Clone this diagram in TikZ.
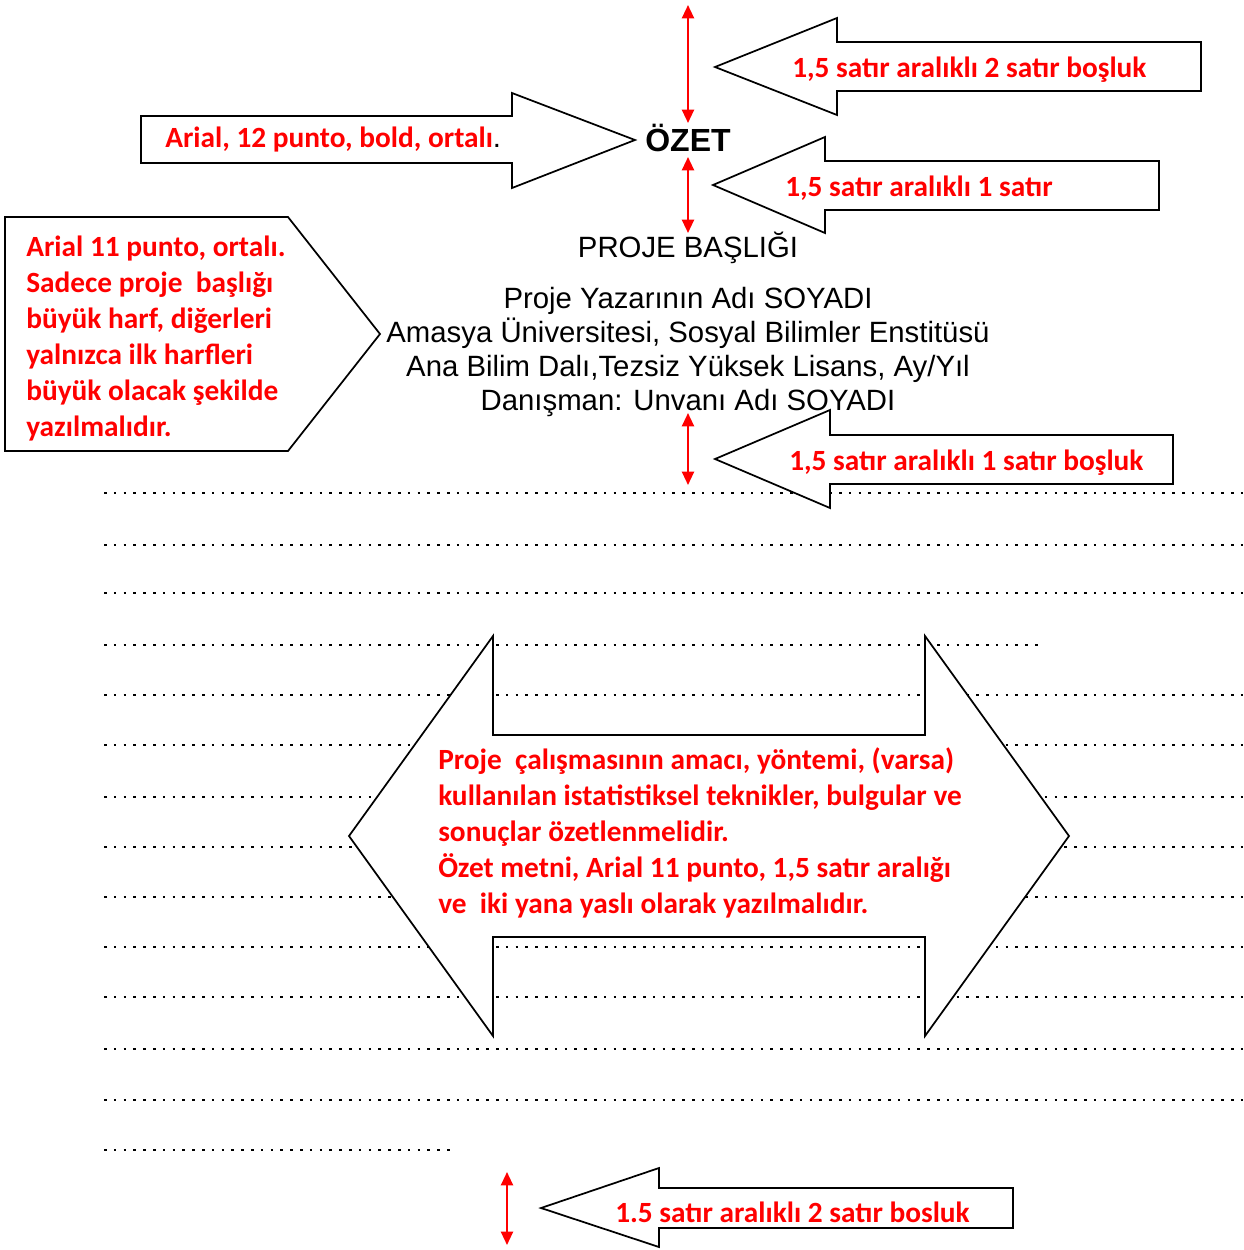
\documentclass[tikz,border=0pt]{standalone}
\usepackage{fontspec}
\setmainfont{Liberation Sans}
\newfontfamily\calib{Carlito}
\usetikzlibrary{arrows.meta}
\begin{document}
\begin{tikzpicture}[x=0.75pt,y=-0.75pt,
  shapeline/.style={draw=black,line width=1.3pt,fill=white,line join=miter},
  dotrow/.style={black,line width=2pt,dash pattern=on 2pt off 5.35pt},
  redlbl/.style={text=red,font=\calib\bfseries\fontsize{22}{27}\selectfont,inner sep=0pt,align=left},
  blk/.style={font=\fontsize{22}{25.5}\selectfont,inner sep=0pt},
  gaparrow/.style={red,line width=1.6pt,{Triangle[length=10pt,width=9pt]}-{Triangle[length=10pt,width=9pt]}}
]
\useasboundingbox (0,0) rectangle (1243,1250);
% dotted writing lines
\foreach \yy in {493,545,593,695,745,797,847,897,947,997,1049,1100}{
  \draw[dotrow] (104,\yy) -- (1243,\yy);
}
\draw[dotrow] (104,645) -- (1040,645);
\draw[dotrow] (104,1150) -- (454,1150);

% block arrows and callout
\draw[shapeline] (141,116) -- (512,116) -- (512,93) -- (635,140) -- (512,188) -- (512,163) -- (141,163) -- cycle;
\draw[shapeline] (1201,42) -- (837,42) -- (837,18) -- (715,67) -- (837,115) -- (837,91) -- (1201,91) -- cycle;
\draw[shapeline] (1159,161) -- (825,161) -- (825,137) -- (713,185) -- (825,233) -- (825,210) -- (1159,210) -- cycle;
\draw[shapeline] (1173,435) -- (830,435) -- (830,410) -- (715,459) -- (830,508) -- (830,484) -- (1173,484) -- cycle;
\draw[shapeline] (1013,1188) -- (659,1188) -- (659,1168) -- (541,1208) -- (659,1247) -- (659,1228) -- (1013,1228) -- cycle;
\draw[shapeline] (5,217) -- (288,217) -- (380,334) -- (288,451) -- (5,451) -- cycle;
\draw[shapeline] (349,836) -- (493,636) -- (493,735) -- (925,735) -- (925,636) -- (1069,836) -- (925,1036) -- (925,937) -- (493,937) -- (493,1036) -- cycle;

% black page text
\node[blk,font=\bfseries\fontsize{24}{28}\selectfont,anchor=base] (ozet) at (688,151) {ÖZET};
\node[blk,anchor=base] (baslik) at (688,257) {PROJE BAŞLIĞI};
\node[blk,anchor=base] (yazar) at (688,308) {Proje Yazarının Adı SOYADI};
\node[blk,anchor=base] (univ) at (688,342) {Amasya Üniversitesi, Sosyal Bilimler Enstitüsü};
\node[blk,anchor=base] (abd) at (688,376) {Ana Bilim Dalı,Tezsiz Yüksek Lisans, Ay/Yıl};
\node[blk,anchor=base] (danisman) at (688,410) {Danışman: Unvanı Adı SOYADI};

% red labels
\node[redlbl,anchor=base west] (l1) at (165,147) {Arial, 12 punto, bold, ortalı\textcolor{black}{\normalfont .}};
\node[redlbl,anchor=base west] (lA) at (792,77) {1,5 satır aralıklı 2 satır boşluk};
\node[redlbl,anchor=base west] (lB) at (785,196) {1,5 satır aralıklı 1 satır};
\node[redlbl,anchor=base west] (lC) at (789,470) {1,5 satır aralıklı 1 satır boşluk};
\node[redlbl,anchor=base west] (lD) at (615,1222) {1.5 satır aralıklı 2 satır bosluk};
\node[redlbl,anchor=base west] (lP) at (26,436) {Arial 11 punto, ortalı.\\Sadece proje\ \ başlığı\\büyük harf, diğerleri\\yalnızca ilk harfleri\\büyük olacak şekilde\\yazılmalıdır.};
\node[redlbl,anchor=base west] (lM) at (438,913) {Proje\ \ çalışmasının amacı, yöntemi, (varsa)\\kullanılan istatistiksel teknikler, bulgular ve\\sonuçlar özetlenmelidir.\\Özet metni, Arial 11 punto, 1,5 satır aralığı\\ve\ \ iki yana yaslı olarak yazılmalıdır.};

% red spacing markers
\coordinate (g1a) at (688,5);   \coordinate (g1b) at (688,123);
\coordinate (g2a) at (688,157); \coordinate (g2b) at (688,233);
\coordinate (g3a) at (688,413); \coordinate (g3b) at (688,485);
\coordinate (g4a) at (507,1172);\coordinate (g4b) at (507,1245);
\draw[gaparrow] (g1a) -- (g1b);
\draw[gaparrow] (g2a) -- (g2b);
\draw[gaparrow] (g3a) -- (g3b);
\draw[gaparrow] (g4a) -- (g4b);
\end{tikzpicture}
\end{document}
